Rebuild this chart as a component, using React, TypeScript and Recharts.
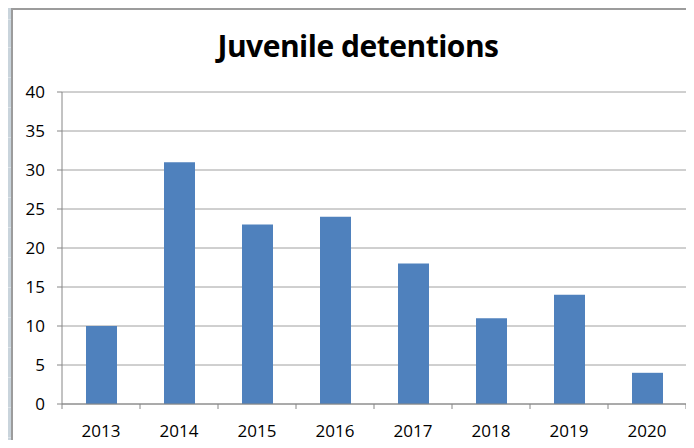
import { BarChart, Bar, XAxis, YAxis, CartesianGrid } from 'recharts';

const years = ['2013', '2014', '2015', '2016', '2017', '2018', '2019', '2020'];
const detentions = [10, 31, 23, 24, 18, 11, 14, 4];
const yTicks = [0, 5, 10, 15, 20, 25, 30, 35, 40];

const data = years.map((year, i) => ({ year, value: detentions[i] }));

const W = 694;
const H = 448;
const PLOT_LEFT = 62;
const PLOT_RIGHT = 686;
const HALF_BAND = (PLOT_RIGHT - PLOT_LEFT) / years.length / 2;

const AXIS = '#868686';
const FONT = "'Open Sans', sans-serif";

function YearTick(props: any) {
  const { x, y, payload, index } = props;
  const isLast = index === years.length - 1;
  return (
    <g>
      <line x1={x - HALF_BAND} x2={x - HALF_BAND} y1={y - 8} y2={y - 3} stroke={AXIS} />
      {isLast && <line x1={x + HALF_BAND} x2={x + HALF_BAND} y1={y - 8} y2={y - 3} stroke={AXIS} />}
      <text x={x} y={y + 25} textAnchor="middle" fontSize={17} fill="#000" fontFamily={FONT}>
        {payload.value}
      </text>
    </g>
  );
}

export default function App() {
  const vLines = [93, 188, 283, 378, 473, 568, 663];
  const hLines = [19, 47, 77, 107, 137, 167, 197, 227, 257, 287, 317, 347, 377, 407, 437];
  return (
    <div style={{ position: 'relative', width: W, height: H, margin: -8, background: '#C9D4DC', overflow: 'hidden' }}>
      {vLines.map((x) => (
        <div key={'v' + x} style={{ position: 'absolute', left: x, top: 0, width: 1, height: H, background: '#DCE3E8' }} />
      ))}
      {hLines.map((y) => (
        <div key={'h' + y} style={{ position: 'absolute', left: 0, top: y, width: W, height: 1, background: '#DCE3E8' }} />
      ))}
      <div
        style={{
          position: 'absolute',
          left: 11,
          top: 8,
          width: 720,
          height: 480,
          background: '#fff',
          borderLeft: '2px solid #9C9C9C',
          borderTop: '2px solid #9C9C9C',
        }}
      />
      <div
        style={{
          position: 'absolute',
          left: 0,
          top: 25,
          width: 716,
          textAlign: 'center',
          fontFamily: FONT,
          fontWeight: 700,
          fontSize: 30,
          letterSpacing: -0.5,
          color: '#000',
        }}
      >
        Juvenile detentions
      </div>
      <div style={{ position: 'absolute', left: 0, top: 0 }}>
        <BarChart width={W} height={H} data={data} margin={{ top: 92, right: W - PLOT_RIGHT, bottom: 0, left: 0 }}>
          <CartesianGrid vertical={false} stroke="#A0A0A0" />
          <XAxis
            dataKey="year"
            stroke={AXIS}
            tickLine={false}
            tick={<YearTick />}
            interval={0}
            height={44}
          />
          <YAxis
            domain={[0, 40]}
            ticks={yTicks}
            width={PLOT_LEFT}
            stroke={AXIS}
            tickSize={5}
            tickMargin={12}
            tick={{ fill: '#000', fontSize: 17, fontFamily: FONT }}
          />
          <Bar dataKey="value" fill="#4F81BD" barSize={31} isAnimationActive={false} />
        </BarChart>
      </div>
    </div>
  );
}
